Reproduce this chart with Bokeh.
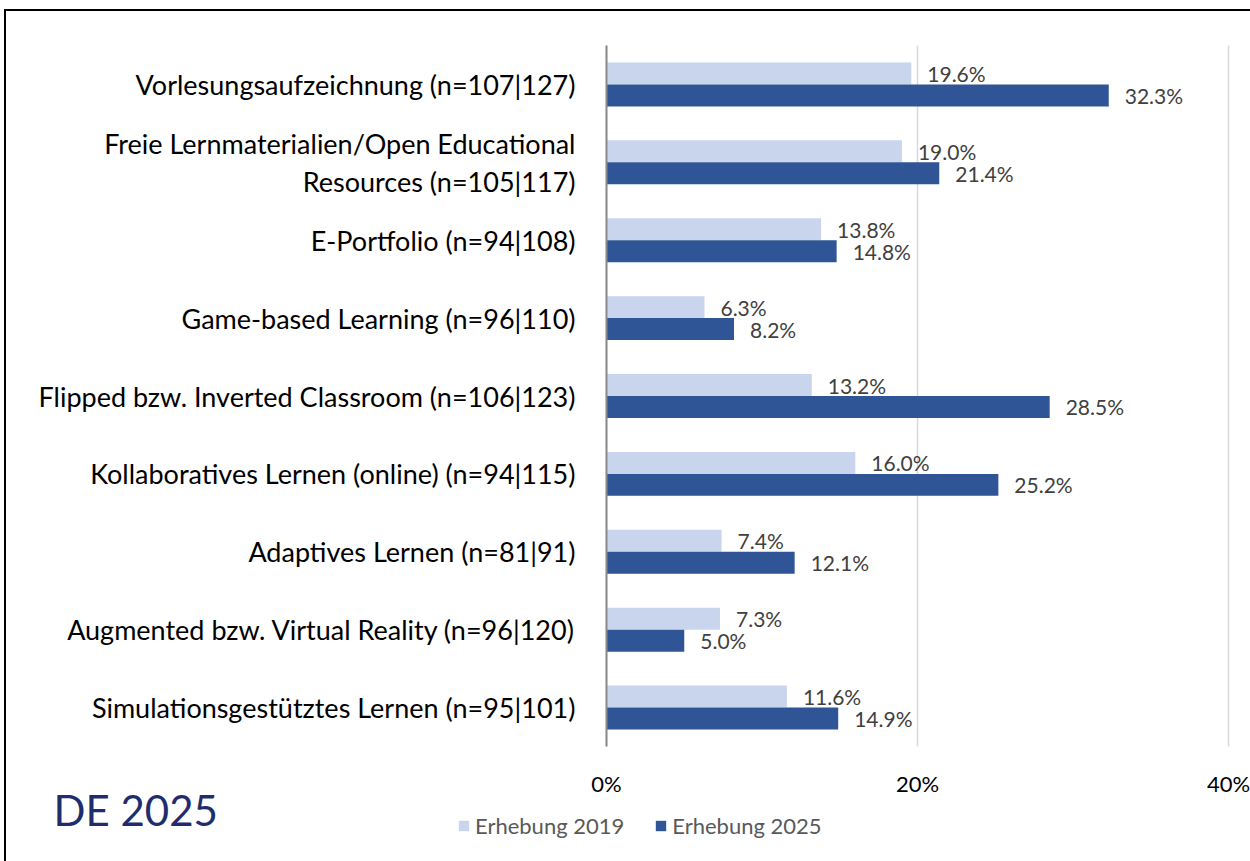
from bokeh.plotting import figure
from bokeh.models import (ColumnDataSource, Range1d, FixedTicker, PrintfTickFormatter,
                          LabelSet, Legend, LegendItem, Label, Grid)
from bokeh.transform import dodge
from bokeh.core.properties import value
from bokeh.embed import file_html
from bokeh.resources import INLINE

categories = [
    "Vorlesungsaufzeichnung (n=107|127)",
    "Freie Lernmaterialien/Open Educational\nResources (n=105|117)",
    "E-Portfolio (n=94|108)",
    "Game-based Learning (n=96|110)",
    "Flipped bzw. Inverted Classroom (n=106|123)",
    "Kollaboratives Lernen (online) (n=94|115)",
    "Adaptives Lernen (n=81|91)",
    "Augmented bzw. Virtual Reality (n=96|120)",
    "Simulationsgestütztes Lernen (n=95|101)",
]
erhebung_2019 = [19.6, 19.0, 13.8, 6.3, 13.2, 16.0, 7.4, 7.3, 11.6]
erhebung_2025 = [32.3, 21.4, 14.8, 8.2, 28.5, 25.2, 12.1, 5.0, 14.9]
series_names = ["Erhebung 2019", "Erhebung 2025"]
x_ticks = [0, 20, 40]
badge_text = "DE 2025"

LIGHT = "#C8D5EC"
DARK = "#2F5597"
FONT = "Lato"

n = len(categories)
ypos = [n - 0.5 - i for i in range(n)]  # first category at the top

src = ColumnDataSource(dict(
    y=ypos,
    v19=erhebung_2019,
    v25=erhebung_2025,
    l19=[f"{v:.1f}%" for v in erhebung_2019],
    l25=[f"{v:.1f}%" for v in erhebung_2025],
))

# canvas: 1244 x 850 px; value axis 0..40 spans 622 px starting at 600 px,
# category band spans 701 px starting 34 px below the top
PX_PER_UNIT_X = 622 / 40
PX_PER_CAT = 701 / n
W, H = 1244, 850
x_start = -600 / PX_PER_UNIT_X
x_end = (W - 600) / PX_PER_UNIT_X
y_end = n + 34 / PX_PER_CAT
y_start = n - (H - 34) / PX_PER_CAT

p = figure(
    x_range=Range1d(x_start, x_end), y_range=Range1d(y_start, y_end),
    frame_width=W, frame_height=H, min_border=0,
    output_backend="svg", toolbar_location=None,
)
p.styles = {"border-top": "2px solid black", "border-left": "2px solid black",
            "margin-left": "4px", "margin-top": "9px"}
p.outline_line_color = None
p.background_fill_color = "white"
p.border_fill_color = "white"

bh = 0.282
r19 = p.hbar(y=dodge("y", bh / 2), right="v19", left=0, height=bh,
             source=src, fill_color=LIGHT, line_color=None)
r25 = p.hbar(y=dodge("y", -bh / 2), right="v25", left=0, height=bh,
             source=src, fill_color=DARK, line_color=None)

for col, lab, off in (("v19", "l19", bh / 2), ("v25", "l25", -bh / 2)):
    p.add_layout(LabelSet(x=col, y=dodge("y", off), text=lab, source=src,
                          x_offset=16, text_baseline="middle", text_align="left",
                          text_font=value(FONT), text_font_size=value("21px"),
                          text_color="#404040"))

# x axis (value axis) placed at the bottom of the category band
xa = p.xaxis[0]
xa.fixed_location = 0
xa.ticker = FixedTicker(ticks=x_ticks)
xa.formatter = PrintfTickFormatter(format="%d%%")
xa.axis_line_color = None
xa.major_tick_line_color = None
xa.minor_tick_line_color = None
xa.major_tick_out = 0
xa.major_label_standoff = 23
xa.major_label_text_font = FONT
xa.major_label_text_font_size = "22px"
xa.major_label_text_color = "#000000"

# y axis (categories) placed at value 0
ya = p.yaxis[0]
ya.fixed_location = 0
ya.bounds = (0, n)
ya.ticker = FixedTicker(ticks=ypos)
ya.major_label_overrides = {y: c for y, c in zip(ypos, categories)}
ya.axis_line_color = "#8A8A8A"
ya.axis_line_width = 2
ya.major_tick_line_color = None
ya.minor_tick_line_color = None
ya.major_tick_out = 0
ya.major_label_standoff = 31
ya.major_label_text_font = FONT
ya.major_label_text_font_size = "27px"
ya.major_label_text_color = "#000000"
ya.major_label_text_line_height = 1.15

p.ygrid.grid_line_color = None
p.xgrid.ticker = FixedTicker(ticks=x_ticks)
p.xgrid.grid_line_color = "#D9D9D9"
p.xgrid.grid_line_width = 1.5
if "cross_bounds" in Grid.properties():
    p.xgrid.cross_bounds = (0, n)

legend = Legend(
    items=[LegendItem(label=series_names[0], renderers=[r19]),
           LegendItem(label=series_names[1], renderers=[r25])],
    location=(451, 22), orientation="horizontal",
    glyph_width=13, glyph_height=13, label_height=20, label_standoff=5, spacing=30,
    padding=0, margin=0, border_line_color=None, background_fill_alpha=0,
    label_text_font=FONT, label_text_font_size="22px", label_text_color="#595959",
)
p.add_layout(legend, "center")

p.add_layout(Label(x=x_start + 47 / PX_PER_UNIT_X, y=y_start + 52 / PX_PER_CAT,
                   text=badge_text, text_font=FONT, text_font_size="42px",
                   text_color="#1F2D6E", text_baseline="middle", text_align="left"))

open("out.html", "w").write(file_html(p, INLINE))
